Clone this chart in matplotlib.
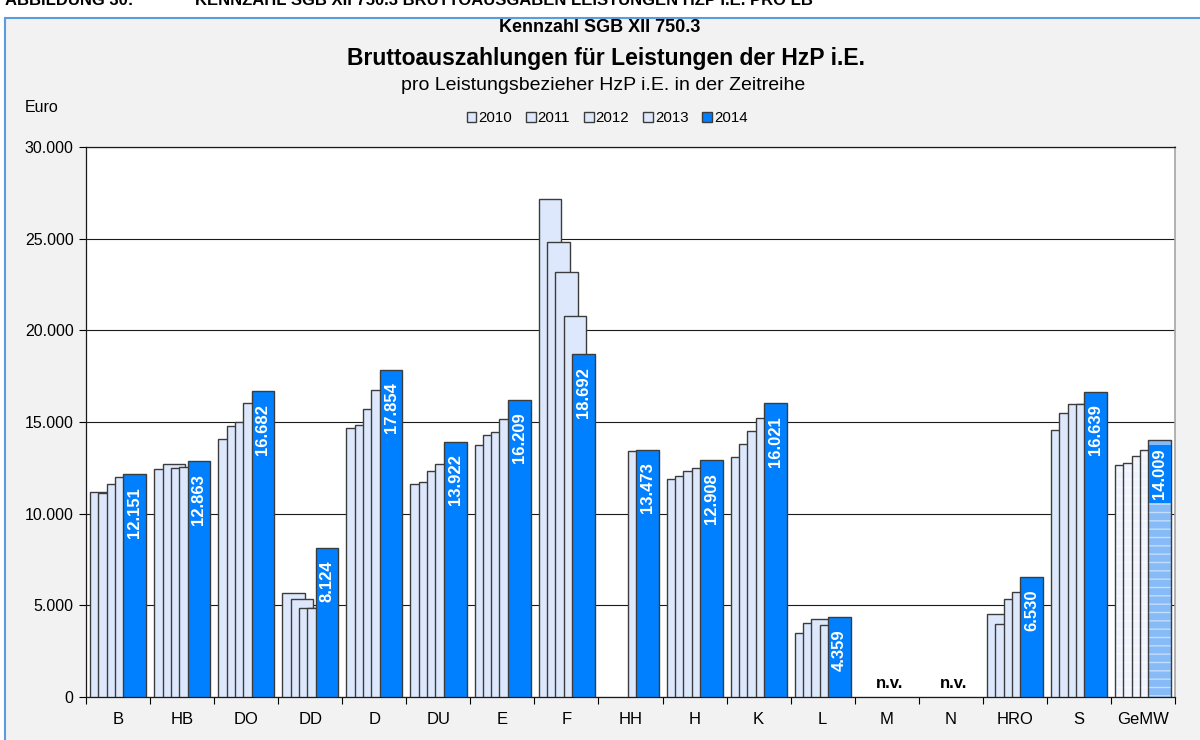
import numpy as np
import matplotlib.pyplot as plt
from matplotlib.patches import Rectangle
from matplotlib.ticker import FuncFormatter, FixedLocator

plt.rcParams['font.family'] = ['Liberation Sans', 'DejaVu Sans']

staedte = ["B", "HB", "DO", "DD", "D", "DU", "E", "F", "HH", "H", "K", "L",
           "M", "N", "HRO", "S", "GeMW"]
jahre = ["2010", "2011", "2012", "2013", "2014"]

nan = np.nan
w2010 = [11200, 12420, 14090, 5650, 14690, 11620, 13750, 27150, nan, 11890, 13110, 3510, nan, nan, 4530, 14550, 12640]
w2011 = [11110, 12690, 14780, 5330, 14840, 11750, 14290, 24800, nan, 12070, 13780, 4060, nan, nan, 3980, 15470, 12760]
w2012 = [11620, 12470, 15000, 4840, 15730, 12350, 14470, 23160, nan, 12350, 14530, 4260, nan, nan, 5360, 16000, 13130]
w2013 = [11980, 12530, 16020, 4870, 16760, 12710, 15150, 20800, 13430, 12490, 15240, 3930, nan, nan, 5710, 16000, 13470]
w2014 = [12151, 12863, 16682, 8124, 17854, 13922, 16209, 18692, 13473, 12908, 16021, 4359, nan, nan, 6530, 16639, 14009]
werte = [w2010, w2011, w2012, w2013, w2014]

hell = "#DDE8FC"
blau = "#0080FF"
rand = "#3C3C3C"

fig = plt.figure(figsize=(12, 7.4), dpi=100)
fig.patch.set_facecolor("white")

# grauer Diagrammrahmen mit blauer Kante
fig.patches.append(Rectangle((5 / 1200, -0.01), 1.0, 1 - 18 / 740 + 0.01,
                             transform=fig.transFigure, facecolor="#F2F2F2",
                             edgecolor="#5B9BE0", linewidth=1.5, zorder=-5))

# abgeschnittene Abbildungsueberschrift
fig.text(5 / 1200, 1 - 5 / 740, "ABBILDUNG 30:", fontsize=12, fontweight="bold",
         va="baseline", ha="left")
fig.text(195 / 1200, 1 - 5 / 740,
         "KENNZAHL SGB XII 750.3 BRUTTOAUSGABEN LEISTUNGEN HZP I.E. PRO LB",
         fontsize=12, fontweight="bold", va="baseline", ha="left")

ax = fig.add_axes([86 / 1200, 1 - 697 / 740, (1175 - 86) / 1200, 550 / 740])
ax.set_facecolor("white")
ax.set_zorder(2)

x = np.arange(len(staedte))
breite = 0.355
schritt = 0.13
start = -0.435 + breite / 2
gemw = staedte.index("GeMW")

balken = []
for i, (jahr, w) in enumerate(zip(jahre, werte)):
    w = np.array(w, dtype=float)
    farbe = blau if jahr == "2014" else hell
    pos = x + start + i * schritt
    normal = w.copy()
    normal[gemw] = nan
    b = ax.bar(pos, normal, breite, color=farbe, edgecolor=rand, linewidth=1.0,
               label=jahr, zorder=3 + i)
    balken.append(b)
    # Mittelwert mit Streifenmuster
    if jahr == "2014":
        ax.bar(pos[gemw], w[gemw], breite, color="#86BBF7", edgecolor="#C4DDFB",
               hatch="--", linewidth=0, zorder=3 + i)
    else:
        ax.bar(pos[gemw], w[gemw], breite, color="#F0F4FE", edgecolor="#F8FAFF",
               hatch="--", linewidth=0, zorder=3 + i)
    ax.bar(pos[gemw], w[gemw], breite, facecolor="none", edgecolor=rand,
           linewidth=1.0, zorder=3 + i)

# Werte 2014 im Balken
pos14 = x + start + 4 * schritt
for k, v in enumerate(w2014):
    if np.isnan(v):
        ax.text(x[k] + 0.05, 350, "n.v.", ha="center", va="bottom",
                fontsize=12, fontweight="bold", zorder=10)
        continue
    txt = f"{v:,.0f}".replace(",", ".")
    if k == gemw:
        ax.annotate(txt, (pos14[k], v), xytext=(0, -6), textcoords="offset points",
                    rotation=90, ha="center", va="top", color="white",
                    fontsize=12, fontweight="bold", zorder=10,
                    bbox=dict(boxstyle="square,pad=0.22", facecolor=blau,
                              edgecolor="none"))
    else:
        ax.annotate(txt, (pos14[k], v), xytext=(0, -9), textcoords="offset points",
                    rotation=90, ha="center", va="top", color="white",
                    fontsize=12, fontweight="bold", zorder=10)

ax.set_xlim(-0.5, len(staedte) - 0.5)
ax.set_ylim(0, 30000)
ax.set_yticks(np.arange(0, 30001, 5000))
ax.yaxis.set_major_formatter(FuncFormatter(lambda v, p: f"{v:,.0f}".replace(",", ".")))
ax.tick_params(axis="y", direction="out", length=5, width=0.8, labelsize=11.5, pad=4)
ax.yaxis.grid(True, color="#1A1A1A", linewidth=0.8, zorder=1)
ax.set_axisbelow(True)

ax.xaxis.set_major_locator(FixedLocator(np.arange(-0.5, len(staedte), 1.0)))
ax.xaxis.set_minor_locator(FixedLocator(x))
ax.set_xticklabels([])
ax.set_xticklabels(staedte, minor=True)
ax.tick_params(axis="x", which="major", direction="out", length=5, width=0.8)
ax.tick_params(axis="x", which="minor", length=0, labelsize=12, pad=11)

for s in ["left", "bottom", "top"]:
    ax.spines[s].set_color("#1A1A1A")
    ax.spines[s].set_linewidth(0.9)
ax.spines["right"].set_color("#A6A6A6")
ax.spines["right"].set_linewidth(1.2)

fig.text(25 / 1200, 1 - 107 / 740, "Euro", fontsize=11.5, va="center", ha="left")

fig.text(0.5, 1 - 27 / 740, "Kennzahl SGB XII 750.3", fontsize=13,
         fontweight="bold", ha="center", va="center")
fig.text(0.505, 1 - 59 / 740, "Bruttoauszahlungen für Leistungen der HzP i.E.",
         fontsize=16.5, fontweight="bold", ha="center", va="center")
fig.text(0.503, 1 - 85 / 740, "pro Leistungsbezieher HzP i.E. in der Zeitreihe",
         fontsize=14, ha="center", va="center")

fig.legend(handles=balken, labels=jahre, loc="center",
           bbox_to_anchor=(607 / 1200, 1 - 118 / 740), ncol=5, frameon=False,
           fontsize=10.8, handlelength=0.65, handleheight=0.65,
           handletextpad=0.15, columnspacing=0.9)

fig.savefig("out.png", dpi=100, facecolor=fig.get_facecolor())
